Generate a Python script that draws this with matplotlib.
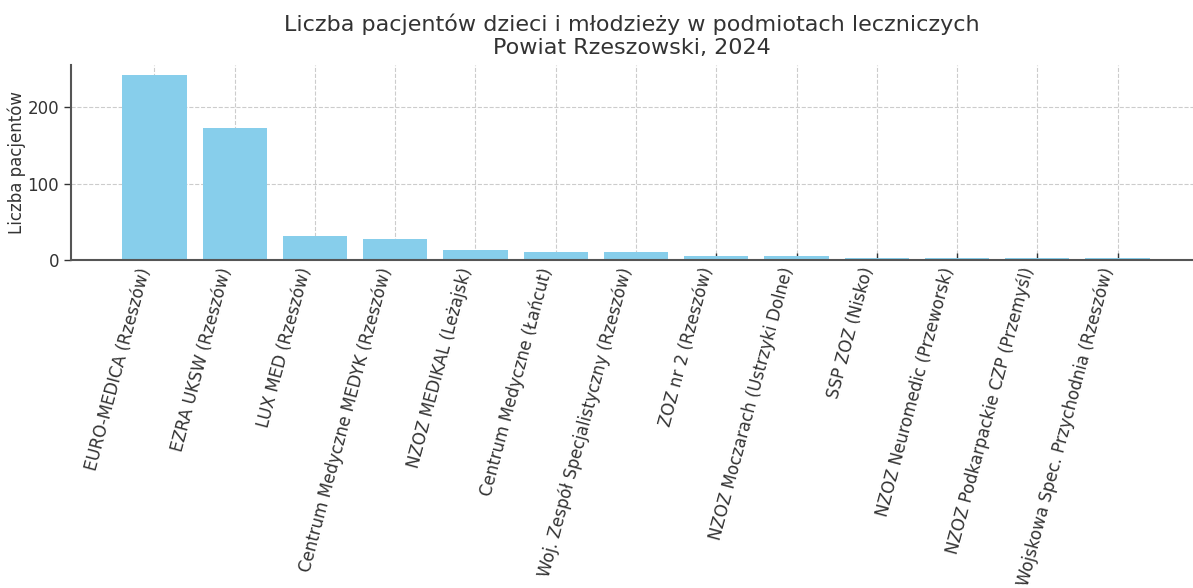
import matplotlib.pyplot as plt

podmioty = [
    'EURO-MEDICA (Rzeszów)',
    'EZRA UKSW (Rzeszów)',
    'LUX MED (Rzeszów)',
    'Centrum Medyczne MEDYK (Rzeszów)',
    'NZOZ MEDIKAL (Leżajsk)',
    'Centrum Medyczne (Łańcut)',
    'Woj. Zespół Specjalistyczny (Rzeszów)',
    'ZOZ nr 2 (Rzeszów)',
    'NZOZ Moczarach (Ustrzyki Dolne)',
    'SSP ZOZ (Nisko)',
    'NZOZ Neuromedic (Przeworsk)',
    'NZOZ Podkarpackie CZP (Przemyśl)',
    'Wojskowa Spec. Przychodnia (Rzeszów)',
]
pacjenci = [242, 173, 31, 27, 13, 11, 10, 5, 5, 3, 2, 2, 2]

text_color = '#333333'
plt.rcParams['font.family'] = ['DejaVu Sans']

fig = plt.figure(figsize=(11.93, 5.88), dpi=100)
ax = fig.add_axes([71 / 1193, 328 / 588, 1122 / 1193, 195 / 588])

x = list(range(len(podmioty)))
ax.bar(x, pacjenci, width=0.8, color='#87CEEB', zorder=2)
ax.set_xlim(-1.04, 12.94)
ax.set_ylim(0, 255)
ax.set_yticks([0, 100, 200])
ax.set_xticks(x)
ax.set_xticklabels(podmioty, rotation=75, ha='right', fontsize=12, color=text_color)
ax.tick_params(axis='y', labelsize=12, labelcolor=text_color, direction='out')
ax.tick_params(axis='x', direction='in', pad=4)
ax.tick_params(axis='both', color='#333333', length=5, width=1)
ax.grid(True, linestyle='--', color='#cccccc', linewidth=0.8, zorder=0)

for side in ['top', 'right']:
    ax.spines[side].set_visible(False)
for side in ['left', 'bottom']:
    ax.spines[side].set_color('#555555')
    ax.spines[side].set_linewidth(1.5)

ax.set_ylabel('Liczba pacjentów', fontsize=12, color=text_color, labelpad=1)
ax.set_title('Liczba pacjentów dzieci i młodzieży w podmiotach leczniczych\nPowiat Rzeszowski, 2024',
             fontsize=16, color=text_color, pad=8)

fig.savefig('out.png', dpi=100)
